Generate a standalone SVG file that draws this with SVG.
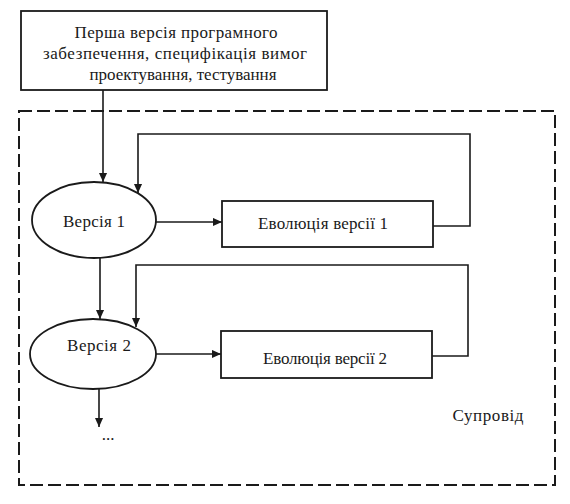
<svg xmlns="http://www.w3.org/2000/svg" width="570" height="504" viewBox="0 0 570 504">
<style>
.box{fill:#fff;stroke:#1a1a1a;stroke-width:1.8}
.ln{fill:none;stroke:#1a1a1a;stroke-width:1.6}
.dash{fill:none;stroke:#1a1a1a;stroke-width:2;stroke-dasharray:13 5}
text{font-family:"Liberation Serif","Times New Roman",serif;font-size:17px;fill:#1a1a1a;text-anchor:middle}
</style>
<defs>
<marker id="ar" viewBox="0 0 10 10" refX="10" refY="5" markerWidth="9" markerHeight="9" markerUnits="userSpaceOnUse" orient="auto">
<path d="M0,0.5 L10,5 L0,9.5 Z" fill="#1a1a1a"/>
</marker>
</defs>
<rect width="570" height="504" fill="#fff"/>
<g id="support">
<rect class="dash" x="19" y="111" width="536" height="374"/>
<text x="488" y="421" textLength="71">Супровід</text>
</g>
<g id="connectors">
<path class="ln" d="M103,90 V182" marker-end="url(#ar)"/>
<path class="ln" d="M433,226 H470 V134 H138 V193" marker-end="url(#ar)"/>
<path class="ln" d="M156,222 H222" marker-end="url(#ar)"/>
<path class="ln" d="M100,258 V319" marker-end="url(#ar)"/>
<path class="ln" d="M432,356 H468 V265 H136 V327" marker-end="url(#ar)"/>
<path class="ln" d="M156,354 H221" marker-end="url(#ar)"/>
<path class="ln" d="M99,389 V427" marker-end="url(#ar)"/>
<text x="108" y="440">...</text>
</g>
<g id="first">
<rect class="box" x="21" y="11" width="306" height="79"/>
<text x="176" y="38" textLength="203">Перша версія програмного</text>
<text x="175" y="59" textLength="264">забезпечення, специфікація вимог</text>
<text x="183" y="80" textLength="187">проектування, тестування</text>
</g>
<g id="v1">
<ellipse class="box" cx="94" cy="220" rx="62" ry="38"/>
<text x="94" y="227" textLength="62">Версія 1</text>
</g>
<g id="evo1">
<rect class="box" x="222" y="201" width="211" height="46"/>
<text x="323" y="229" textLength="130">Еволюція версії 1</text>
</g>
<g id="v2">
<ellipse class="box" cx="93" cy="354" rx="63" ry="35"/>
<text x="99" y="351" textLength="64">Версія 2</text>
</g>
<g id="evo2">
<rect class="box" x="221" y="331" width="211" height="47"/>
<text x="325" y="364" textLength="124">Еволюція версії 2</text>
</g>
</svg>
